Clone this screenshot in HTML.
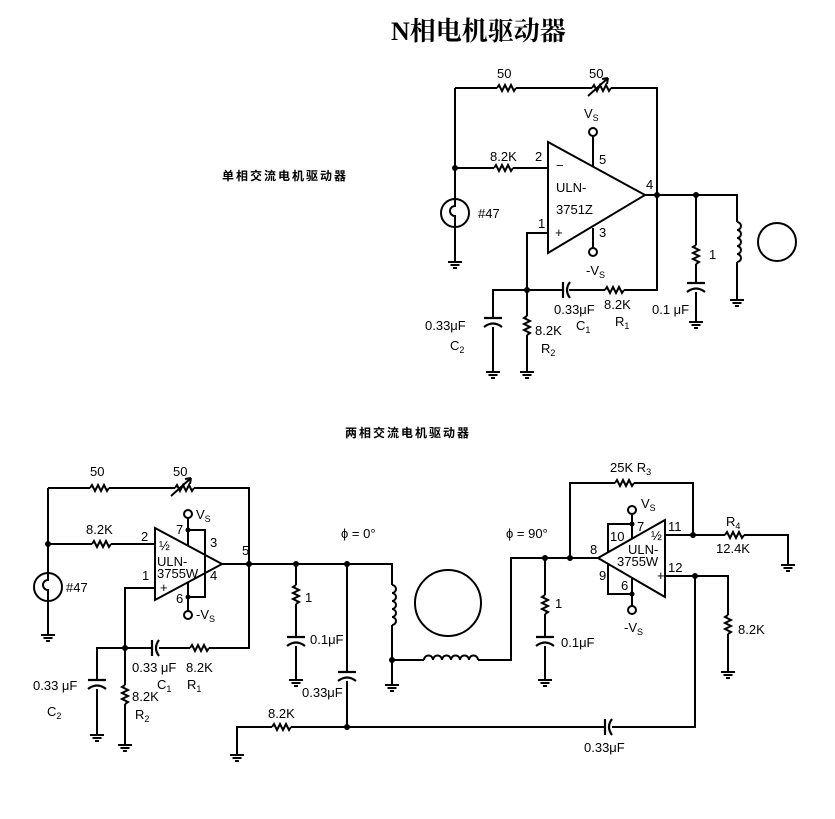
<!DOCTYPE html>
<html><head><meta charset="utf-8"><style>
html,body{margin:0;padding:0;background:#fff;}
svg{display:block;}
text{font-family:"Liberation Sans","Noto Sans CJK SC",sans-serif;font-size:13px;fill:#000;}
.cn{font-family:"Liberation Sans","Noto Sans CJK SC",sans-serif;font-weight:bold;font-size:12px;letter-spacing:2px;}
.t{font-family:"Liberation Serif","Noto Serif CJK SC",serif;font-weight:bold;font-size:26px;}
</style></head><body>
<svg width="835" height="819" viewBox="0 0 835 819" xmlns="http://www.w3.org/2000/svg">
<defs>
<path id="rh" d="M0,0 l2,-3 l3,6 l3,-6 l3,6 l3,-6 l3,6 l2,-3" fill="none" stroke="#000" stroke-width="2"/>
<path id="rv" d="M0,0 l-3,2 l6,3 l-6,3 l6,3 l-6,3 l6,3 l-3,2" fill="none" stroke="#000" stroke-width="2"/>
<path id="gnd" d="M-7,0 h14 M-4.5,3 h9 M-2,6 h4" fill="none" stroke="#000" stroke-width="2"/>
<path id="cv" d="M-9,0 h18 M-9,9 q9,-7 18,0" fill="none" stroke="#000" stroke-width="2.2"/>
<path id="ch" d="M0,-8 v16 M7,-8 q-6,8 0,16" fill="none" stroke="#000" stroke-width="2.2"/>
<path id="lv" d="M0,0 a4,4 0 0 1 0,8 a4,4 0 0 1 0,8 a4,4 0 0 1 0,8 a4,4 0 0 1 0,8 a4,4 0 0 1 0,8" fill="none" stroke="#000" stroke-width="2"/>
<path id="lh" d="M0,0 a4.5,4.5 0 0 1 9,0 a4.5,4.5 0 0 1 9,0 a4.5,4.5 0 0 1 9,0 a4.5,4.5 0 0 1 9,0 a4.5,4.5 0 0 1 9,0 a4.5,4.5 0 0 1 9,0" fill="none" stroke="#000" stroke-width="2"/>
<g id="lamp" fill="none" stroke="#000" stroke-width="2"><circle r="14"/><path d="M0,-14 v7 a5,5 0 0 0 0,10 v11"/></g>
<path id="va" d="M-4,8 L16,-10 M16,-10 l-6,1 M16,-10 l-1,6" fill="none" stroke="#000" stroke-width="2"/>
</defs>
<text x="391" y="40" class="t">N相电机驱动器</text>
<text x="222" y="180" class="cn">单相交流电机驱动器</text>
<text x="345" y="437" class="cn">两相交流电机驱动器</text>

<g fill="none" stroke="#000" stroke-width="2">
<path d="M455,88 H497 M516,88 H592 M611,88 H657 V290 H624 M605,290 H569 M563,290 H493 V318 M493,327 V372"/>
<path d="M455,88 V199 M455,227 V262"/>
<path d="M455,168 H494 M513,168 H548"/>
<path d="M548,142 L645,195 L548,253 Z"/>
<path d="M645,195 H737 V222 M737,262 V300"/>
<path d="M593,166 V136 M593,228 V248"/>
<circle cx="593" cy="132" r="4"/><circle cx="593" cy="252" r="4"/>
<path d="M548,233 H527 V316 M527,335 V372"/>
<path d="M696,195 V245 M696,264 V283 M696,292 V322"/>
<circle cx="777" cy="242" r="19"/>
<path d="M48,488 H90 M109,488 H175 M194,488 H249 V648 H209 M190,648 H159 M152,648 H97 V680 M97,689 V735"/>
<path d="M48,488 V573 M48,601 V635"/>
<path d="M48,544 H92 M111,544 H155"/>
<path d="M155,528 L222,564 L155,600 Z"/>
<path d="M188,546 V518 M188,530 H205 V597 H188 M188,582 V611"/>
<circle cx="188" cy="514" r="4"/><circle cx="188" cy="615" r="4"/>
<path d="M155,588 H125 V685 M125,704 V745"/>
<path d="M222,564 H392 V585 M392,625 V685"/>
<path d="M296,564 V585 M296,604 V637 M296,646 V680"/>
<path d="M347,564 V672 M347,681 V727"/>
<path d="M237,755 V727 H272 M291,727 H605 M612,727 H695 V576"/>
<path d="M392,660 H424 M478,660 H511 V558 H598"/>
<circle cx="448" cy="603" r="33"/>
<path d="M570,558 V483 H615 M634,483 H693 V535"/>
<path d="M598,558 L665,520 L665,597 Z"/>
<path d="M632,539 V514 M632,524 H608 V552 M632,577 V606 M632,594 H608 V564"/>
<circle cx="632" cy="510" r="4"/><circle cx="632" cy="610" r="4"/>
<path d="M665,535 H725 M744,535 H788 V565"/>
<path d="M665,576 H728 V615 M728,634 V672"/>
<path d="M545,558 V595 M545,614 V637 M545,646 V680"/>
</g>
<use href="#rh" x="497" y="88"/><use href="#rh" x="592" y="88"/><use href="#va" x="592" y="88"/>
<use href="#rh" x="494" y="168"/><use href="#rh" x="605" y="290"/>
<use href="#rv" x="527" y="316"/><use href="#rv" x="696" y="245"/>
<use href="#ch" x="563" y="290"/><use href="#cv" x="493" y="318"/><use href="#cv" x="696" y="283"/>
<use href="#lv" x="737" y="222"/><use href="#lamp" x="455" y="213"/>
<use href="#gnd" x="455" y="262"/><use href="#gnd" x="493" y="372"/><use href="#gnd" x="527" y="372"/><use href="#gnd" x="696" y="322"/><use href="#gnd" x="737" y="300"/>

<use href="#rh" x="90" y="488"/><use href="#rh" x="175" y="488"/><use href="#va" x="175" y="488"/>
<use href="#rh" x="92" y="544"/><use href="#rh" x="190" y="648"/><use href="#ch" x="152" y="648"/>
<use href="#cv" x="97" y="680"/><use href="#rv" x="125" y="685"/><use href="#lamp" x="48" y="587"/>
<use href="#rv" x="296" y="585"/><use href="#cv" x="296" y="637"/><use href="#cv" x="347" y="672"/>
<use href="#rh" x="272" y="727"/><use href="#ch" x="605" y="727"/>
<use href="#lv" x="392" y="585"/><use href="#lh" x="424" y="660"/>
<use href="#gnd" x="48" y="635"/><use href="#gnd" x="97" y="735"/><use href="#gnd" x="125" y="745"/><use href="#gnd" x="296" y="680"/><use href="#gnd" x="392" y="685"/><use href="#gnd" x="237" y="755"/>
<use href="#rh" x="615" y="483"/><use href="#rh" x="725" y="535"/><use href="#rv" x="728" y="615"/>
<use href="#rv" x="545" y="595"/><use href="#cv" x="545" y="637"/>
<use href="#gnd" x="788" y="565"/><use href="#gnd" x="728" y="672"/><use href="#gnd" x="545" y="680"/>
<g fill="#000">
<circle cx="455" cy="168" r="3"/><circle cx="657" cy="195" r="3"/><circle cx="527" cy="290" r="3"/><circle cx="696" cy="195" r="3"/>
<circle cx="48" cy="544" r="3"/><circle cx="249" cy="564" r="3"/><circle cx="125" cy="648" r="3"/><circle cx="296" cy="564" r="3"/><circle cx="347" cy="564" r="3"/><circle cx="347" cy="727" r="3"/><circle cx="392" cy="660" r="3"/>
<circle cx="188" cy="530" r="2.5"/><circle cx="188" cy="597" r="2.5"/>
<circle cx="545" cy="558" r="3"/><circle cx="570" cy="558" r="3"/><circle cx="693" cy="535" r="3"/><circle cx="695" cy="576" r="3"/>
<circle cx="632" cy="524" r="2.5"/><circle cx="632" cy="594" r="2.5"/>
</g>
<text x="497" y="78">50</text><text x="589" y="78">50</text>
<text x="584" y="118">V<tspan font-size="9" dy="3">S</tspan></text>
<text x="490" y="161">8.2K</text><text x="535" y="161">2</text><text x="599" y="164">5</text>
<text x="556" y="170">−</text><text x="555" y="237">+</text>
<text x="556" y="192">ULN-</text><text x="556" y="214">3751Z</text>
<text x="646" y="189">4</text><text x="538" y="228">1</text><text x="599" y="237">3</text>
<text x="586" y="275">-V<tspan font-size="9" dy="3">S</tspan></text>
<text x="478" y="218">#47</text><text x="709" y="259">1</text>
<text x="554" y="314">0.33μF</text><text x="604" y="309">8.2K</text>
<text x="576" y="330">C<tspan font-size="9" dy="3">1</tspan></text><text x="615" y="326">R<tspan font-size="9" dy="3">1</tspan></text>
<text x="652" y="314">0.1 μF</text>
<text x="425" y="330">0.33μF</text><text x="450" y="350">C<tspan font-size="9" dy="3">2</tspan></text>
<text x="535" y="335">8.2K</text><text x="541" y="353">R<tspan font-size="9" dy="3">2</tspan></text>
<text x="90" y="476">50</text><text x="173" y="476">50</text>
<text x="196" y="519">V<tspan font-size="9" dy="3">S</tspan></text>
<text x="86" y="534">8.2K</text><text x="141" y="541">2</text>
<text x="176" y="534">7</text><text x="210" y="547">3</text><text x="210" y="580">4</text><text x="176" y="603">6</text><text x="242" y="555">5</text>
<text x="159" y="550" font-size="10">½</text><text x="157" y="566">ULN-</text><text x="157" y="578">3755W</text><text x="160" y="592">+</text>
<text x="196" y="619">-V<tspan font-size="9" dy="3">S</tspan></text>
<text x="142" y="580">1</text><text x="66" y="592">#47</text>
<text x="132" y="672">0.33  μF</text><text x="186" y="672">8.2K</text>
<text x="157" y="689">C<tspan font-size="9" dy="3">1</tspan></text><text x="187" y="689">R<tspan font-size="9" dy="3">1</tspan></text>
<text x="33" y="690">0.33  μF</text><text x="47" y="716">C<tspan font-size="9" dy="3">2</tspan></text>
<text x="132" y="701">8.2K</text><text x="135" y="719">R<tspan font-size="9" dy="3">2</tspan></text>
<text x="305" y="602">1</text><text x="310" y="644">0.1μF</text><text x="302" y="697">0.33μF</text>
<text x="268" y="718">8.2K</text>
<text x="341" y="538">ϕ = 0°</text>
<text x="506" y="538">ϕ = 90°</text>
<text x="610" y="472">25K R<tspan font-size="9" dy="3">3</tspan></text>
<text x="641" y="508">V<tspan font-size="9" dy="3">S</tspan></text>
<text x="610" y="541">10</text><text x="637" y="531">7</text><text x="590" y="554">8</text><text x="599" y="580">9</text><text x="621" y="590">6</text>
<text x="651" y="540" font-size="9">½</text><text x="628" y="554">ULN-</text><text x="617" y="566">3755W</text><text x="657" y="580" font-size="10">+</text>
<text x="668" y="531">11</text><text x="668" y="572">12</text>
<text x="624" y="632">-V<tspan font-size="9" dy="3">S</tspan></text>
<text x="726" y="526">R<tspan font-size="9" dy="3">4</tspan></text><text x="716" y="553">12.4K</text>
<text x="738" y="634">8.2K</text>
<text x="555" y="608">1</text><text x="561" y="647">0.1μF</text>
<text x="584" y="752">0.33μF</text>
</svg>
</body></html>
